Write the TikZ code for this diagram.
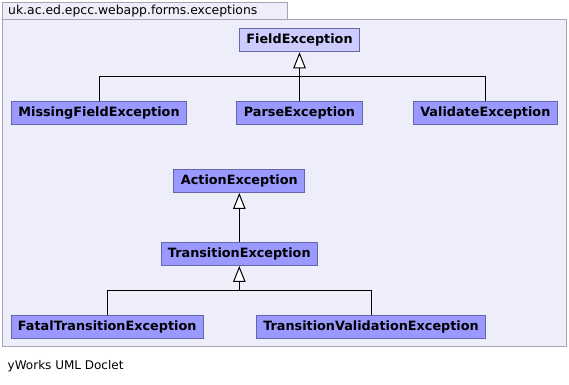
\documentclass[tikz,border=0pt]{standalone}
\usepackage{fontspec}
\setmainfont{DejaVu Sans}
\usetikzlibrary{arrows.meta}
\definecolor{pkgfill}{HTML}{EEEEFB}
\definecolor{pkgline}{HTML}{A4A4B4}
\definecolor{clsfill}{HTML}{9999FF}
\definecolor{clsroot}{HTML}{CCCCFF}
\definecolor{clsline}{HTML}{6666AA}
\tikzset{
	cls/.style={draw=clsline,fill=clsfill,line width=0.9pt,inner xsep=7pt,minimum height=23pt,font=\fontsize{12.8}{14}\selectfont\bfseries},
	root/.style={cls,fill=clsroot},
	inherit/.style={line width=1pt,-{Triangle[width=12.5pt,length=16pt,fill=white,line width=1pt]}},
	bus/.style={line width=1pt}
}
\begin{document}
\begin{tikzpicture}[x=1pt,y=-1pt]
				\useasboundingbox (0,0) rectangle (569,384);
				\draw[pkgline,fill=pkgfill,line width=0.9pt] (2.5,2.5) rectangle (287,19);
				\draw[pkgline,fill=pkgfill,line width=0.9pt] (2.5,19) rectangle (566.5,346.3);
				\node[anchor=west,inner sep=0pt,font=\fontsize{12.4}{14}\selectfont](pkg) at (8,11){uk.ac.ed.epcc.webapp.forms.exceptions};
				\node[anchor=west,inner sep=0pt,font=\fontsize{12}{14}\selectfont](doclet) at (7.5,366.5){yWorks UML Doclet};
				\node[root](field) at (299.5,40.3){FieldException};
				\node[cls](missing) at (99,112.8){MissingFieldException};
				\node[cls](parse) at (299.5,112.8){ParseException};
				\node[cls](validate) at (485.3,112.8){ValidateException};
				\node[cls](action) at (239.3,181){ActionException};
				\node[cls](transition) at (239.3,254){TransitionException};
				\node[cls](fatal) at (107.2,327){FatalTransitionException};
				\node[cls](tvalid) at (371,327){TransitionValidationException};
				\coordinate(fbus) at (299.5,76.7);
				\coordinate(tbus) at (239.3,290.3);
				\draw[bus](missing.north) |- (fbus);
				\draw[bus](validate.north) |- (fbus);
				\draw[inherit](parse.north) to (field.south);
				\draw[inherit](transition.north) to (action.south);
				\draw[bus](fatal.north) |- (tbus);
				\draw[bus](tvalid.north) |- (tbus);
				\draw[inherit](tbus) to (transition.south);
\end{tikzpicture}
\end{document}
